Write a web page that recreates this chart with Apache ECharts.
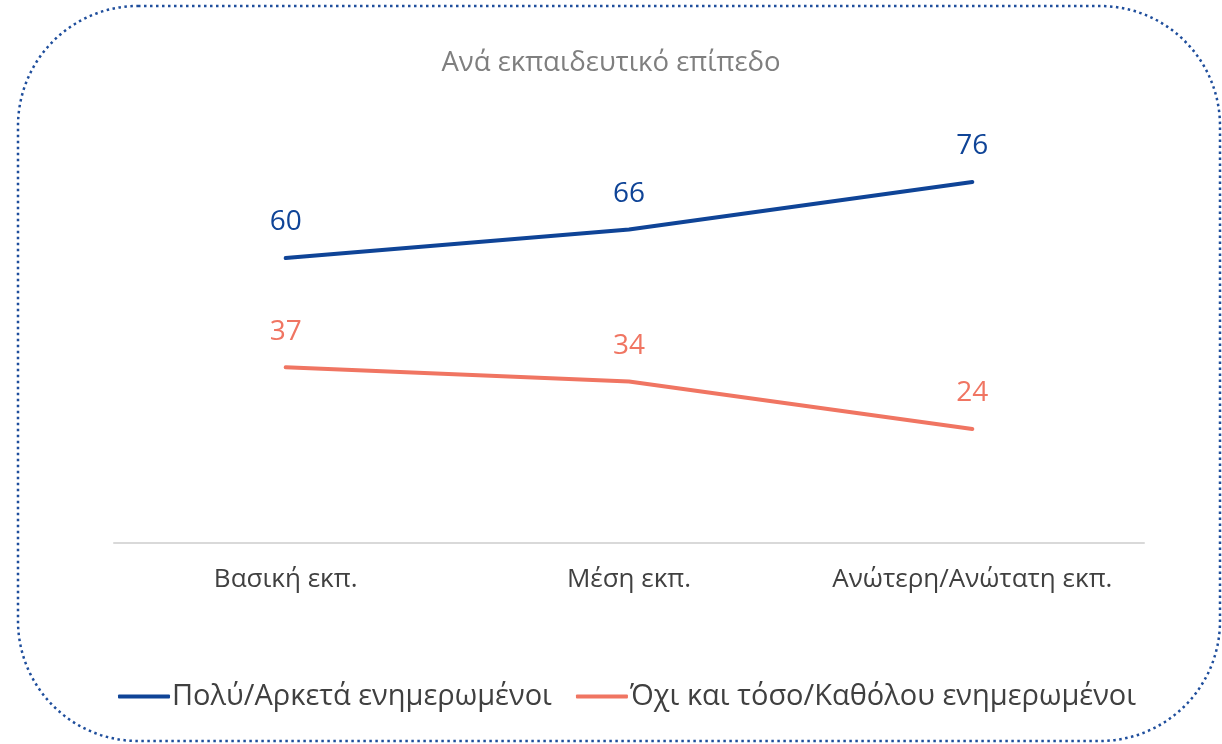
<!DOCTYPE html>
<html>
<head>
<meta charset="utf-8">
<script src="https://cdn.jsdelivr.net/npm/echarts@6/dist/echarts.min.js"></script>
<style>
  html, body { margin: 0; padding: 0; background: #fff; }
  #chart { width: 1222px; height: 744px; }
</style>
</head>
<body>
<div id="chart"></div>
<script>
const categories = ['Βασική εκπ.', 'Μέση εκπ.', 'Ανώτερη/Ανώτατη εκπ.'];
const informed = [60, 66, 76];
const notInformed = [37, 34, 24];
const seriesNames = ['Πολύ/Αρκετά ενημερωμένοι', 'Όχι και τόσο/Καθόλου ενημερωμένοι'];

const FONT = '"Open Sans", "Noto Sans", sans-serif';

const chart = echarts.init(document.getElementById('chart'));
chart.setOption({
    animation: false,
    title: {
        text: 'Ανά εκπαιδευτικό επίπεδο',
        left: 'center',
        top: 44,
        textStyle: { color: '#7f7f7f', fontFamily: FONT, fontSize: 27.5, fontWeight: 'normal' }
    },
    legend: {
        bottom: 33,
        left: 118,
        padding: 0,
        itemWidth: 52,
        itemHeight: 4,
        itemGap: 24,
        icon: 'roundRect',
        textStyle: { color: '#404040', fontFamily: FONT, fontSize: 29, padding: [0, 0, 0, -3] },
        data: seriesNames
    },
    grid: { left: 114, right: 78, top: 68, bottom: 201 },
    xAxis: {
        type: 'category',
        data: categories,
        axisLine: { lineStyle: { color: '#d9d9d9', width: 2 } },
        axisTick: { show: false },
        axisLabel: { color: '#404040', fontFamily: FONT, fontSize: 26, margin: 24, interval: 0, hideOverlap: false }
    },
    yAxis: {
        type: 'value',
        min: 0,
        max: 100,
        show: false
    },
    graphic: [{
        type: 'rect',
        shape: { x: 18, y: 6, width: 1202, height: 735, r: 120 },
        style: { fill: 'none', stroke: '#1f4e9c', lineWidth: 2.5, lineDash: [2.5, 3.5] },
        silent: true
    }],
    series: [
        {
            name: seriesNames[0],
            type: 'line',
            data: informed,
            symbol: 'circle',
            symbolSize: 1,
            showSymbol: true,
            color: '#0f4497',
            lineStyle: { width: 4, cap: 'round' },
            label: { show: true, position: 'top', distance: 21, color: '#0f4497', fontFamily: FONT, fontSize: 28 }
        },
        {
            name: seriesNames[1],
            type: 'line',
            data: notInformed,
            symbol: 'circle',
            symbolSize: 1,
            showSymbol: true,
            color: '#f07562',
            lineStyle: { width: 4, cap: 'round' },
            label: { show: true, position: 'top', distance: 21, color: '#f07562', fontFamily: FONT, fontSize: 28 }
        }
    ]
});

window.addEventListener('resize', () => chart.resize());
</script>
</body>
</html>
